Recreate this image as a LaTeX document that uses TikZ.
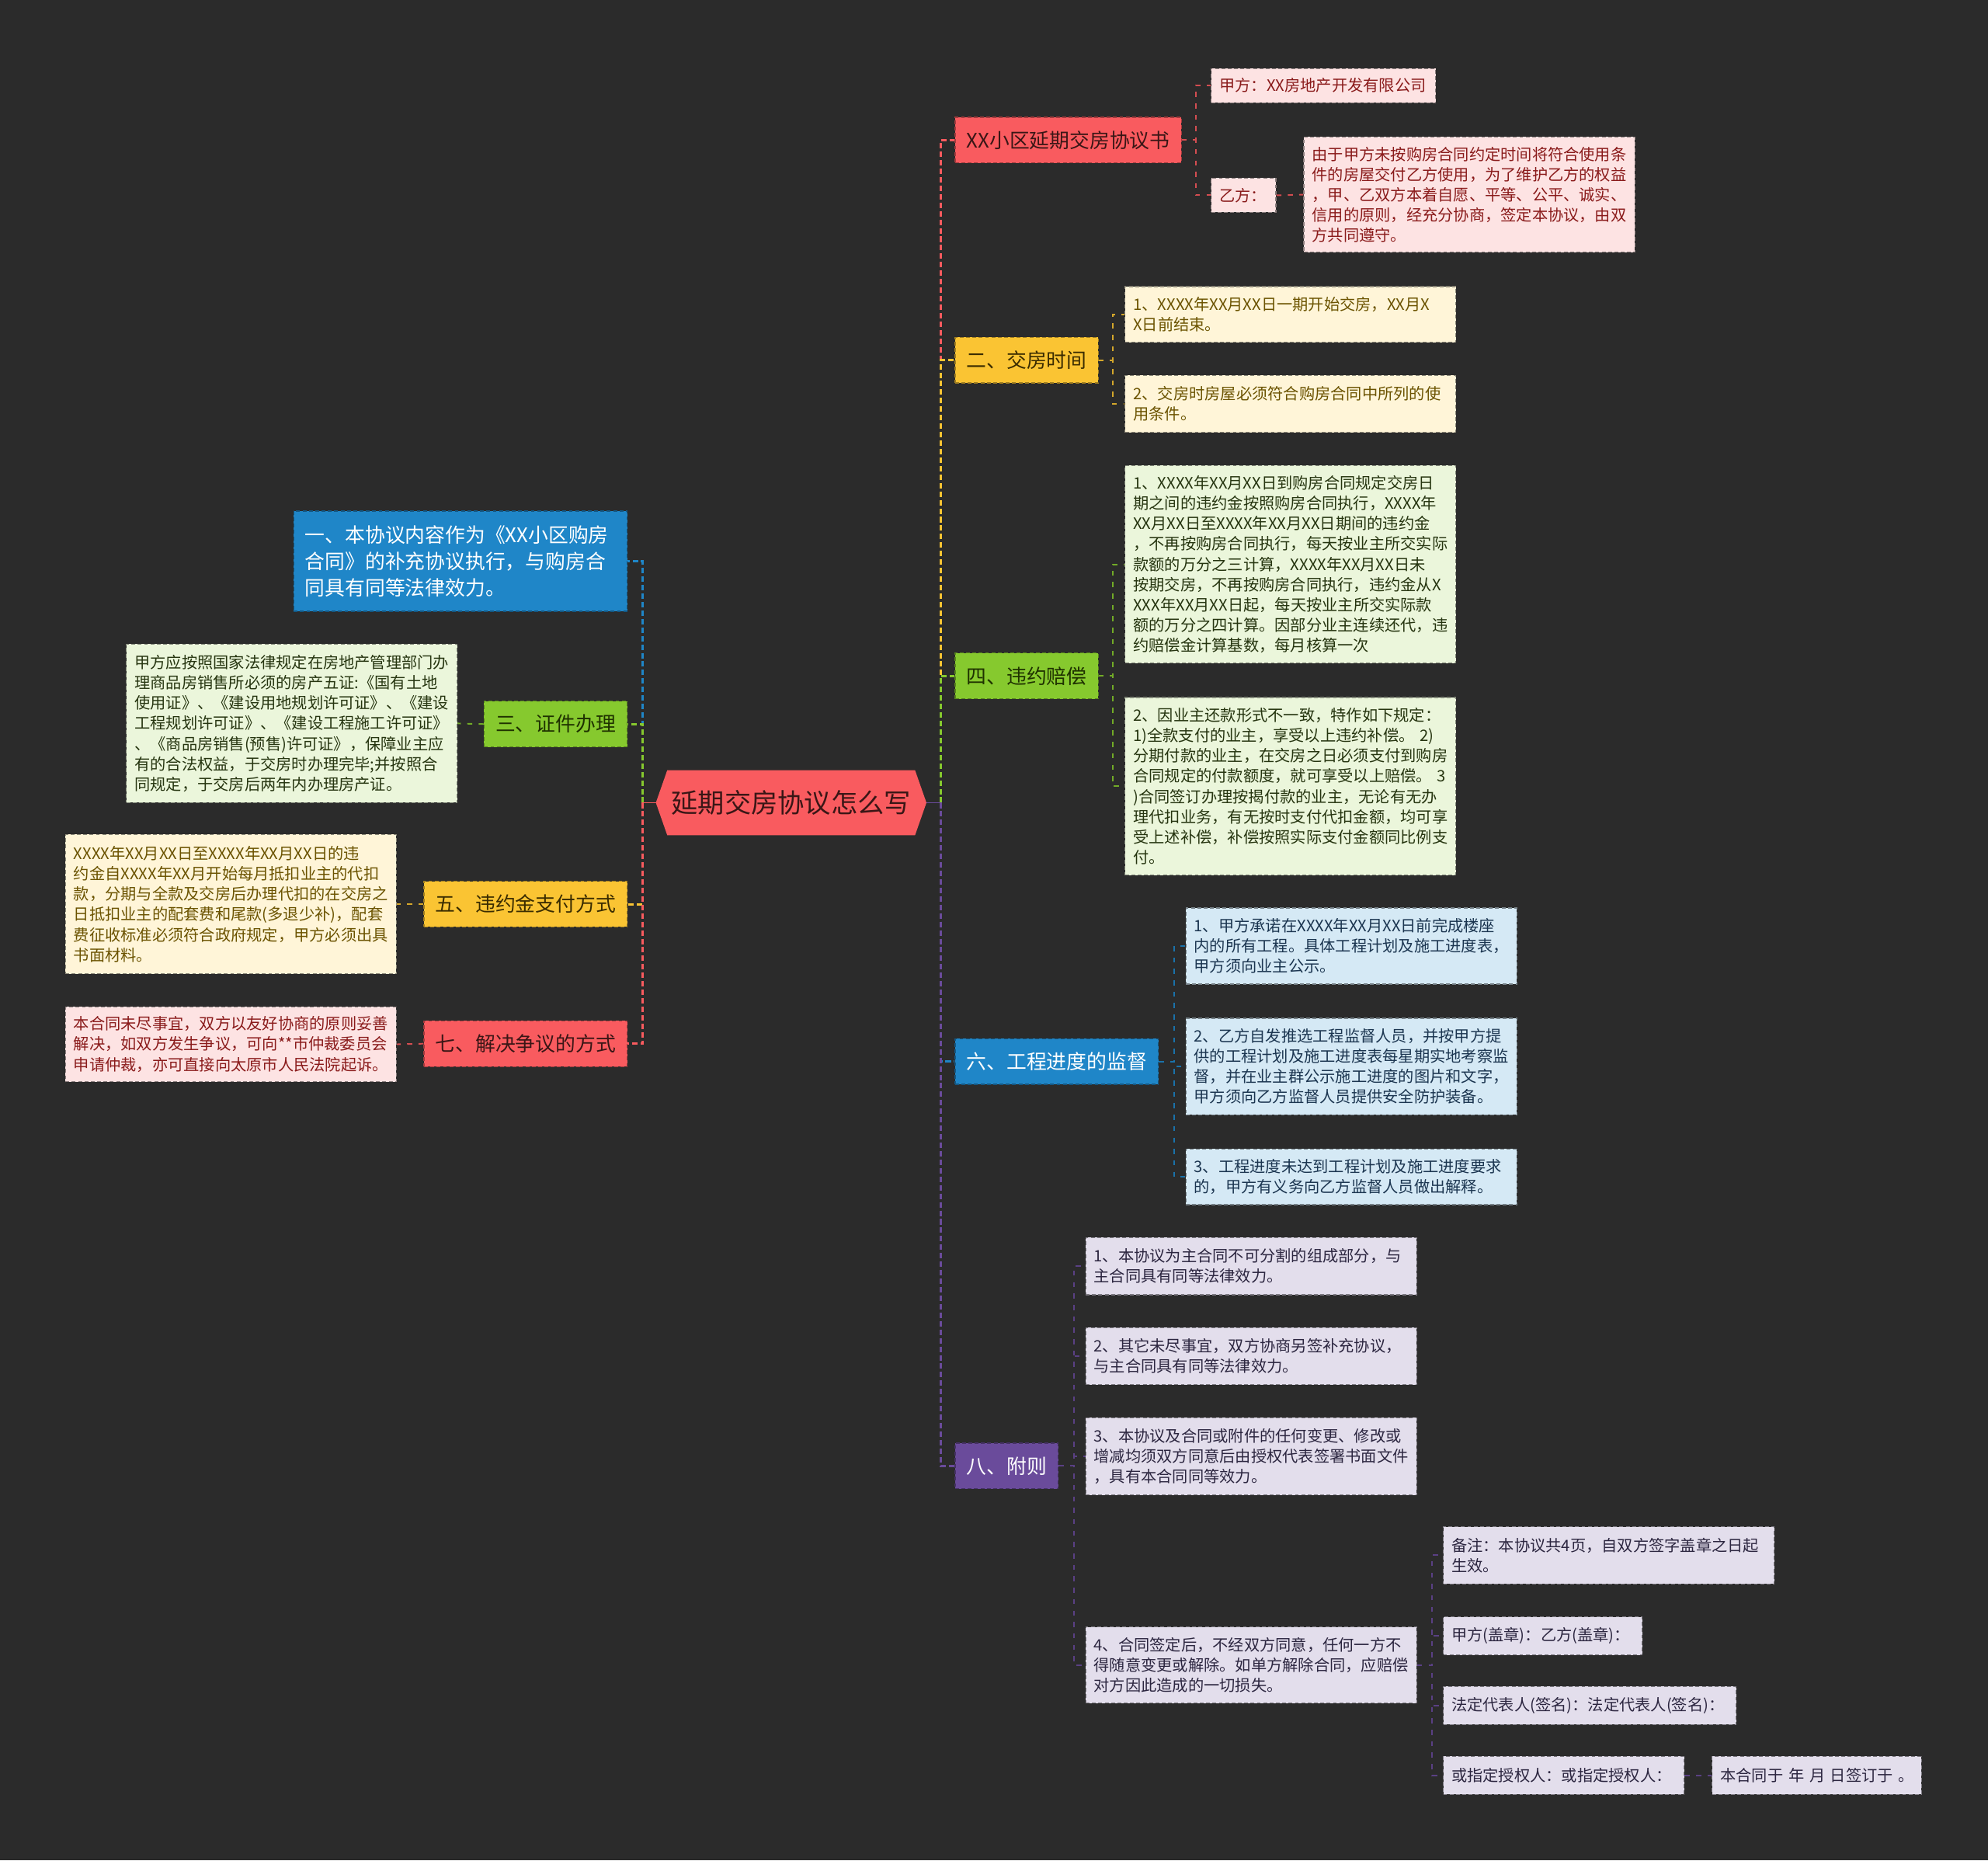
\documentclass[tikz,border=0pt]{standalone}
\usepackage{fontspec}
\newfontfamily\cjk{Noto Sans CJK SC}
\usetikzlibrary{backgrounds,positioning}

\definecolor{bg}{HTML}{2B2B2B}
\definecolor{redmain}{HTML}{F95B5F}
\definecolor{redlight}{HTML}{FDE3E3}
\definecolor{redink}{HTML}{8A1B1B}
\definecolor{redtext}{HTML}{3A1616}
\definecolor{yelmain}{HTML}{FAC433}
\definecolor{yellight}{HTML}{FFF5D8}
\definecolor{yelink}{HTML}{6B5300}
\definecolor{yeltext}{HTML}{3A2C00}
\definecolor{grnmain}{HTML}{86C92E}
\definecolor{grnlight}{HTML}{EBF6DB}
\definecolor{grnink}{HTML}{263510}
\definecolor{grntext}{HTML}{1F3200}
\definecolor{blumain}{HTML}{1F86C8}
\definecolor{blulight}{HTML}{D5E9F5}
\definecolor{bluink}{HTML}{1B3550}
\definecolor{purmain}{HTML}{6A4B9B}
\definecolor{purlight}{HTML}{E3DEEC}
\definecolor{purink}{HTML}{2C2640}

\tikzset{
  root/.style={minimum width=213pt, minimum height=51pt, inner sep=0pt,
    text=redtext, font=\cjk\fontsize{21}{25}\selectfont},
  topic/.style={anchor=west, fill=#1main, draw=#1main!65!black,
    dash pattern=on 3pt off 2pt, line width=0.7pt, inner xsep=9pt,
    inner ysep=0pt, minimum height=36pt, font=\cjk\fontsize{15.8}{21}\selectfont},
  leaf/.style={anchor=west, fill=#1light, text=#1ink, draw=#1light!55!black,
    dash pattern=on 3pt off 2pt, line width=0.7pt, inner xsep=6.5pt,
    inner ysep=0pt, text width=248pt, align=left,
    font=\cjk\fontsize{12.4}{16}\selectfont},
  link/.style={draw=#1main, dash pattern=on 4.3pt off 2.4pt, line width=1.8pt},
  twig/.style={draw=#1main!85!black, dash pattern=on 4pt off 5pt, line width=1.2pt},
}

\begin{document}
\begin{tikzpicture}[x=1pt, y=-1pt]
  \useasboundingbox (0,0) rectangle (1568,1467);
  \begin{scope}[on background layer]
    \fill[bg] (0,0) rectangle (1568,1467);
  \end{scope}

  % centre
  \node[root] (root) at (624,633) {延期交房协议怎么写};
  \begin{scope}[on background layer]
    \fill[redmain] ([xshift=9pt]root.north west) -- (root.west)
      -- ([xshift=9pt]root.south west) -- ([xshift=-9pt]root.south east)
      -- (root.east) -- ([xshift=-9pt]root.north east) -- cycle;
  \end{scope}
  \coordinate (ljoin) at (507,633);
  \coordinate (rjoin) at (742,633);

  % right side
  \node[topic=red, text=redtext] (xieyi) at (753,110.5) {XX小区延期交房协议书};
  \node[leaf=red, text width=164pt, minimum height=27pt] (jiafang) at (955,67.5) {甲方：XX房地产开发有限公司};
  \node[leaf=red, text width=38pt, minimum height=27pt] (yifang) at (955,154) {乙方：};
  \node[leaf=red, minimum height=91pt] (yifangtxt) at (1028,153.5)
    {由于甲方未按购房合同约定时间将符合使用条\\件的房屋交付乙方使用，为了维护乙方的权益\\，甲、乙双方本着自愿、平等、公平、诚实、\\信用的原则，经充分协商，签定本协议，由双\\方共同遵守。};

  \node[topic=yel, text=yeltext] (jiaofang) at (753,284) {二、交房时间};
  \node[leaf=yel, minimum height=44pt] (jf1) at (887,248)
    {1、XXXX年XX月XX日一期开始交房，XX月X\\X日前结束。};
  \node[leaf=yel, minimum height=45pt] (jf2) at (887,318.5)
    {2、交房时房屋必须符合购房合同中所列的使\\用条件。};

  \node[topic=grn, text=grntext] (peichang) at (753,533) {四、违约赔偿};
  \node[leaf=grn, minimum height=156pt] (pc1) at (887,445)
    {1、XXXX年XX月XX日到购房合同规定交房日\\期之间的违约金按照购房合同执行，XXXX年\\XX月XX日至XXXX年XX月XX日期间的违约金\\，不再按购房合同执行，每天按业主所交实际\\款额的万分之三计算，XXXX年XX月XX日未\\按期交房，不再按购房合同执行，违约金从X\\XXX年XX月XX日起，每天按业主所交实际款\\额的万分之四计算。因部分业主连续还代，违\\约赔偿金计算基数，每月核算一次};
  \node[leaf=grn, minimum height=140pt] (pc2) at (887,620)
    {2、因业主还款形式不一致，特作如下规定：\\1)全款支付的业主，享受以上违约补偿。~2)\\分期付款的业主，在交房之日必须支付到购房\\合同规定的付款额度，就可享受以上赔偿。~3\\)合同签订办理按揭付款的业主，无论有无办\\理代扣业务，有无按时支付代扣金额，均可享\\受上述补偿，补偿按照实际支付金额同比例支\\付。};

  \node[topic=blu, text=white] (jiandu) at (753,837) {六、工程进度的监督};
  \node[leaf=blu, minimum height=60pt] (jd1) at (935,746)
    {1、甲方承诺在XXXX年XX月XX日前完成楼座\\内的所有工程。具体工程计划及施工进度表，\\甲方须向业主公示。};
  \node[leaf=blu, minimum height=76pt] (jd2) at (935,841)
    {2、乙方自发推选工程监督人员，并按甲方提\\供的工程计划及施工进度表每星期实地考察监\\督，并在业主群公示施工进度的图片和文字，\\甲方须向乙方监督人员提供安全防护装备。};
  \node[leaf=blu, minimum height=44pt] (jd3) at (935,928)
    {3、工程进度未达到工程计划及施工进度要求\\的，甲方有义务向乙方监督人员做出解释。};

  \node[topic=pur, text=white] (fuze) at (753,1156) {八、附则};
  \node[leaf=pur, minimum height=45pt] (fz1) at (856,998.5)
    {1、本协议为主合同不可分割的组成部分，与\\主合同具有同等法律效力。};
  \node[leaf=pur, minimum height=45pt] (fz2) at (856,1069.5)
    {2、其它未尽事宜，双方协商另签补充协议，\\与主合同具有同等法律效力。};
  \node[leaf=pur, minimum height=61pt] (fz3) at (856,1148.5)
    {3、本协议及合同或附件的任何变更、修改或\\增减均须双方同意后由授权代表签署书面文件\\，具有本合同同等效力。};
  \node[leaf=pur, minimum height=60pt] (fz4) at (856,1313)
    {4、合同签定后，不经双方同意，任何一方不\\得随意变更或解除。如单方解除合同，应赔偿\\对方因此造成的一切损失。};
  \node[leaf=pur, minimum height=45pt] (bz) at (1138,1226.5)
    {备注：本协议共4页，自双方签字盖章之日起\\生效。};
  \node[leaf=pur, text width=144pt, minimum height=30pt] (gz) at (1138,1290) {甲方(盖章)：乙方(盖章)：};
  \node[leaf=pur, text width=218pt, minimum height=30pt] (qm) at (1138,1345) {法定代表人(签名)：法定代表人(签名)：};
  \node[leaf=pur, text width=177pt, minimum height=30pt] (sq) at (1138,1400) {或指定授权人：或指定授权人：};
  \node[leaf=pur, text width=152pt, minimum height=30pt] (qd) at (1350,1400) {本合同于~年~月~日签订于~。};

  % left side
  \node[topic=blu, text=white, anchor=east, align=left, text width=245pt,
    minimum height=79pt, font=\cjk\fontsize{15.8}{21}\selectfont] (yi) at (495,442.5)
    {一、本协议内容作为《XX小区购房\\合同》的补充协议执行，与购房合\\同具有同等法律效力。};
  \node[topic=grn, text=grntext, anchor=east] (zhengjian) at (495,571) {三、证件办理};
  \node[leaf=grn, anchor=east, minimum height=125pt] (zj1) at (361,570.5)
    {甲方应按照国家法律规定在房地产管理部门办\\理商品房销售所必须的房产五证:《国有土地\\使用证》、《建设用地规划许可证》、《建设\\工程规划许可证》、《建设工程施工许可证》\\、《商品房销售(预售)许可证》，保障业主应\\有的合法权益，于交房时办理完毕;并按照合\\同规定，于交房后两年内办理房产证。};
  \node[topic=yel, text=yeltext, anchor=east] (zhifu) at (495,713) {五、违约金支付方式};
  \node[leaf=yel, anchor=east, minimum height=110pt] (zf1) at (313,713)
    {XXXX年XX月XX日至XXXX年XX月XX日的违\\约金自XXXX年XX月开始每月抵扣业主的代扣\\款，分期与全款及交房后办理代扣的在交房之\\日抵扣业主的配套费和尾款(多退少补)，配套\\费征收标准必须符合政府规定，甲方必须出具\\书面材料。};
  \node[topic=red, text=redtext, anchor=east] (zhengyi) at (495,823) {七、解决争议的方式};
  \node[leaf=red, anchor=east, minimum height=59pt] (zy1) at (313,823.5)
    {本合同未尽事宜，双方以友好协商的原则妥善\\解决，如双方发生争议，可向**市仲裁委员会\\申请仲裁，亦可直接向太原市人民法院起诉。};

  % trunks
  \draw[redmain, line width=0.9pt] (root.west) -- (ljoin);
  \draw[purmain, line width=0.9pt] (root.east) -- (rjoin);
  \draw[link=red] (rjoin) |- (xieyi.west);
  \draw[link=yel] (rjoin) |- (jiaofang.west);
  \draw[link=grn] (rjoin) |- (peichang.west);
  \draw[link=blu] (rjoin) |- (jiandu.west);
  \draw[link=pur] (rjoin) |- (fuze.west);
  \draw[link=blu] (ljoin) |- (yi.east);
  \draw[link=grn] (ljoin) |- (zhengjian.east);
  \draw[link=yel] (ljoin) |- (zhifu.east);
  \draw[link=red] (ljoin) |- (zhengyi.east);

  % branches
  \foreach \c in {jiafang,yifang}
    \draw[twig=red] (xieyi.east) -- ++(11,0) |- (\c.west);
  \draw[twig=red] (yifang.east) -- (yifangtxt.west);
  \foreach \c in {jf1,jf2}
    \draw[twig=yel] (jiaofang.east) -- ++(11,0) |- (\c.west);
  \foreach \c in {pc1,pc2}
    \draw[twig=grn] (peichang.east) -- ++(11,0) |- (\c.west);
  \foreach \c in {jd1,jd2,jd3}
    \draw[twig=blu] (jiandu.east) -- ++(12,0) |- (\c.west);
  \foreach \c in {fz1,fz2,fz3,fz4}
    \draw[twig=pur] (fuze.east) -- ++(12,0) |- (\c.west);
  \foreach \c in {bz,gz,qm,sq}
    \draw[twig=pur] (fz4.east) -- ++(12,0) |- (\c.west);
  \draw[twig=pur] (sq.east) -- (qd.west);
  \draw[twig=grn] (zhengjian.west) -- (zj1.east);
  \draw[twig=yel] (zhifu.west) -- (zf1.east);
  \draw[twig=red] (zhengyi.west) -- (zy1.east);
\end{tikzpicture}
\end{document}
